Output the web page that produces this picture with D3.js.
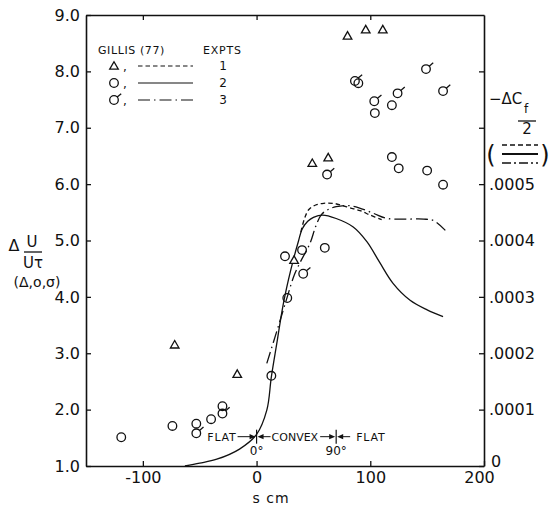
<!DOCTYPE html>
<html><head><meta charset="utf-8">
<script src="https://cdn.jsdelivr.net/npm/d3@7"></script>
<style>
body{margin:0;background:#fff}
svg{display:block;background:#fff}
text{font-family:"DejaVu Sans",sans-serif;fill:#111}
</style>
</head><body>
<svg id="c" width="552" height="507"></svg>
<script>
// ---------- data ----------
const xTicks = [-100, 0, 100, 200];
const xTopTicks = [-100, 0, 100];
const yTicks = [1, 2, 3, 4, 5, 6, 7, 8, 9];
const cfTicks = [0, 0.0001, 0.0002, 0.0003, 0.0004, 0.0005];
const cfExtraTicks = [0.0006, 0.0007];

// Expt 1 (triangles): s (cm), dU/Ut
const triS = [-72, -17, 33, 49, 63, 80, 96, 111];
const triU = [3.15, 2.63, 4.65, 6.37, 6.47, 8.63, 8.74, 8.74];
// Expt 2 (circles)
const cirS = [-119, -74, -53, -40, -30, 13, 27, 25, 40, 60, 119, 125, 150, 164, 89.5, 104, 119];
const cirU = [1.51, 1.71, 1.75, 1.83, 2.06, 2.60, 3.98, 4.72, 4.83, 4.87, 6.48, 6.28, 6.24, 5.99, 7.79, 7.26, 7.40];
// Expt 3 (circle with tail)
const sigS = [-53, -30, 41, 62, 86.5, 103.5, 124, 149, 164];
const sigU = [1.58, 1.93, 4.41, 6.17, 7.83, 7.47, 7.61, 8.04, 7.65];

// Gillis (77) -dCf/2 curves (right axis)
const cf1S = [39, 42, 46, 52, 59, 67, 74, 82, 91, 100, 110];
const cf1V = [0.000415, 0.000438, 0.000455, 0.000463, 0.000466, 0.000466, 0.000463, 0.000458, 0.000453, 0.000445, 0.000437];
const cf2S = [-63, -50, -35, -15, 0, 9, 13, 18, 23, 28, 33, 37, 40, 45, 50, 58, 70, 85, 97, 108, 120, 135, 150, 164];
const cf2V = [0, 0.000005, 0.000012, 0.00003, 0.000056, 0.000099, 0.000158, 0.00022, 0.000282, 0.00033, 0.000371, 0.0004, 0.00042, 0.000434, 0.000441, 0.000445, 0.000439, 0.000424, 0.000398, 0.000362, 0.000324, 0.000294, 0.000277, 0.000265];
const cf3S = [9, 19, 27, 33, 38, 47, 52, 57, 63, 70, 80, 90, 103, 115, 130, 147, 156, 166];
const cf3V = [0.000182, 0.000247, 0.0003, 0.000338, 0.00036, 0.000395, 0.000425, 0.000446, 0.000455, 0.00046, 0.000462, 0.000458, 0.000448, 0.000439, 0.000438, 0.000438, 0.000435, 0.000418];

const legendRows = ["1", "2", "3"];

// ---------- layout ----------
const svg = d3.select("#c");
const L = 86, R = 484, T = 15, B = 466;
const x = d3.scaleLinear().domain([-150, 200]).range([L, R]);
const y = d3.scaleLinear().domain([1, 9]).range([B, T]);
const yR = d3.scaleLinear().domain([0, 0.0008]).range([B, T]);
const ink = "#111";

function styleAxis(g) {
  g.select(".domain").attr("stroke", ink).attr("stroke-width", 1.6);
  g.selectAll(".tick line").attr("stroke", ink).attr("stroke-width", 1.3);
  g.selectAll(".tick text").attr("fill", ink).style("font-size", "16px")
    .style("font-family", '"DejaVu Sans",sans-serif');
}

// left axis
svg.append("g").attr("transform", `translate(${L},0)`)
  .call(d3.axisLeft(y).tickValues(yTicks).tickFormat(d3.format(".1f"))
    .tickSizeInner(-5).tickSizeOuter(0).tickPadding(6))
  .call(styleAxis);

// bottom axis
const gB = svg.append("g").attr("transform", `translate(0,${B})`)
  .call(d3.axisBottom(x).tickValues(xTicks).tickFormat(d => d < 0 ? "-" + Math.abs(d) : d)
    .tickSizeInner(-5).tickSizeOuter(0).tickPadding(6))
  .call(styleAxis);
gB.selectAll(".tick text").filter(d => d === 200).attr("x", -5);

// top axis
svg.append("g").attr("transform", `translate(0,${T})`)
  .call(d3.axisTop(x).tickValues(xTopTicks).tickFormat("")
    .tickSizeInner(-5).tickSizeOuter(0))
  .call(styleAxis);

// right axis
const gR = svg.append("g").attr("transform", `translate(${R},0)`)
  .call(d3.axisRight(yR).tickValues(cfTicks.concat(cfExtraTicks))
    .tickFormat(d => d === 0 ? "0" : (cfTicks.includes(d) ? d3.format(".4f")(d).replace(/^0/, "") : ""))
    .tickSizeInner(-5).tickSizeOuter(0).tickPadding(5))
  .call(styleAxis);
gR.selectAll(".tick text").filter(d => d === 0).attr("dy", "0em").attr("x", 7);

// ---------- curves ----------
const line = d3.line().x(d => x(d[0])).y(d => yR(d[1])).curve(d3.curveCatmullRom.alpha(0.5));
const curves = [
  { s: cf1S, v: cf1V, dash: "4.5,3" },
  { s: cf2S, v: cf2V, dash: null },
  { s: cf3S, v: cf3V, dash: "12,4,1.5,4" }
];
curves.forEach(c => {
  svg.append("path").datum(c.s.map((s, i) => [s, c.v[i]]))
    .attr("d", line).attr("fill", "none").attr("stroke", ink)
    .attr("stroke-width", 1.3).attr("stroke-dasharray", c.dash);
});

// ---------- markers ----------
const triPath = "M0,-4.3L4.3,3.2L-4.3,3.2Z";
function drawTri(g, cx, cy) {
  g.append("path").attr("d", triPath).attr("transform", `translate(${cx},${cy})`)
    .attr("fill", "#fff").attr("stroke", ink).attr("stroke-width", 1.3);
}
function drawCir(g, cx, cy) {
  g.append("circle").attr("cx", cx).attr("cy", cy).attr("r", 4.3)
    .attr("fill", "none").attr("stroke", ink).attr("stroke-width", 1.3);
}
function drawSig(g, cx, cy) {
  drawCir(g, cx, cy);
  g.append("path").attr("d", `M${cx + 3.2},${cy - 2.9}L${cx + 7.2},${cy - 6.3}`)
    .attr("stroke", ink).attr("stroke-width", 1.3);
}
const gm = svg.append("g");
triS.forEach((s, i) => drawTri(gm, x(s), y(triU[i])));
cirS.forEach((s, i) => drawCir(gm, x(s), y(cirU[i])));
sigS.forEach((s, i) => drawSig(gm, x(s), y(sigU[i])));

// ---------- legend ----------
const lg = svg.append("g");
lg.append("text").attr("x", 98).attr("y", 54).style("font-size", "11px").style("letter-spacing", "0.6px").text("GILLIS (77)");
lg.append("text").attr("x", 203).attr("y", 54).style("font-size", "11px").style("letter-spacing", "0.8px").text("EXPTS");
const rowY = [66, 83, 100];
const drawers = [drawTri, drawCir, drawSig];
rowY.forEach((ry, i) => {
  drawers[i](lg, 114, ry);
  lg.append("text").attr("x", 123).attr("y", ry + 5).style("font-size", "12px").text(",");
  lg.append("line").attr("x1", 138).attr("x2", 193).attr("y1", ry).attr("y2", ry)
    .attr("stroke", ink).attr("stroke-width", 1.2).attr("stroke-dasharray", curves[i].dash);
  lg.append("text").attr("x", 223).attr("y", ry + 4).attr("text-anchor", "middle")
    .style("font-size", "12px").text(legendRows[i]);
});

// ---------- axis titles ----------
const lt = svg.append("g");
lt.append("text").attr("x", 14).attr("y", 251).attr("text-anchor", "middle").style("font-size", "16px").text("Δ");
lt.append("text").attr("x", 32).attr("y", 247).attr("text-anchor", "middle").style("font-size", "15px").text("U");
lt.append("line").attr("x1", 24).attr("x2", 42).attr("y1", 252).attr("y2", 252).attr("stroke", ink).attr("stroke-width", 1.3);
lt.append("text").attr("x", 33).attr("y", 268).attr("text-anchor", "middle").style("font-size", "15px").text("Uτ");
lt.append("text").attr("x", 37).attr("y", 287).attr("text-anchor", "middle").style("font-size", "14px").text("(Δ,o,σ)");

svg.append("text").attr("x", 271).attr("y", 503).attr("text-anchor", "middle")
  .style("font-size", "14px").style("letter-spacing", "1px").text("s cm");

const rt = svg.append("g");
rt.append("text").attr("x", 489).attr("y", 104).style("font-size", "15px").text("−ΔC");
rt.append("text").attr("x", 524).attr("y", 113).style("font-size", "12px").text("f");
rt.append("line").attr("x1", 518).attr("x2", 536).attr("y1", 121).attr("y2", 121).attr("stroke", ink).attr("stroke-width", 1.3);
rt.append("text").attr("x", 527).attr("y", 134).attr("text-anchor", "middle").style("font-size", "15px").text("2");
rt.append("text").attr("x", 491).attr("y", 163).attr("text-anchor", "middle").style("font-size", "24px").text("(");
rt.append("text").attr("x", 545).attr("y", 163).attr("text-anchor", "middle").style("font-size", "24px").text(")");
[145, 154, 163].forEach((ly, i) => {
  rt.append("line").attr("x1", 502).attr("x2", 538).attr("y1", ly).attr("y2", ly)
    .attr("stroke", ink).attr("stroke-width", i === 1 ? 1.8 : 1.3)
    .attr("stroke-dasharray", i === 0 ? "5,3" : (i === 2 ? "9,3,2,3" : null));
});

// ---------- FLAT / CONVEX / FLAT annotation ----------
const an = svg.append("g");
const ay = y(1.52), x0 = x(0), x90 = x(70);
function arrow(xFrom, xTip) {
  const dir = Math.sign(xTip - xFrom);
  an.append("line").attr("x1", xFrom).attr("x2", xTip - dir * 5).attr("y1", ay).attr("y2", ay)
    .attr("stroke", ink).attr("stroke-width", 1);
  an.append("path").attr("d", `M${xTip},${ay}L${xTip - dir * 6},${ay - 2.6}L${xTip - dir * 6},${ay + 2.6}Z`).attr("fill", ink);
}
function tick(xx) {
  an.append("line").attr("x1", xx).attr("x2", xx).attr("y1", ay - 7).attr("y2", ay + 7)
    .attr("stroke", ink).attr("stroke-width", 1.2);
}
an.append("text").attr("x", x0 - 20).attr("y", ay + 4.5).attr("text-anchor", "end").style("font-size", "11px").style("letter-spacing", "0.8px").text("FLAT");
arrow(x0 - 19, x0 - 1); tick(x0); arrow(x0 + 14, x0 + 1);
an.append("text").attr("x", x0 + 15).attr("y", ay + 4.5).style("font-size", "11px").text("CONVEX");
arrow(x90 - 16, x90 - 1); tick(x90); arrow(x90 + 14, x90 + 1);
an.append("text").attr("x", x90 + 20).attr("y", ay + 4.5).style("font-size", "11px").style("letter-spacing", "0.8px").text("FLAT");
an.append("text").attr("x", x0).attr("y", ay + 18).attr("text-anchor", "middle").style("font-size", "12px").text("0°");
an.append("text").attr("x", x90).attr("y", ay + 18).attr("text-anchor", "middle").style("font-size", "12px").text("90°");
</script>
</body></html>
